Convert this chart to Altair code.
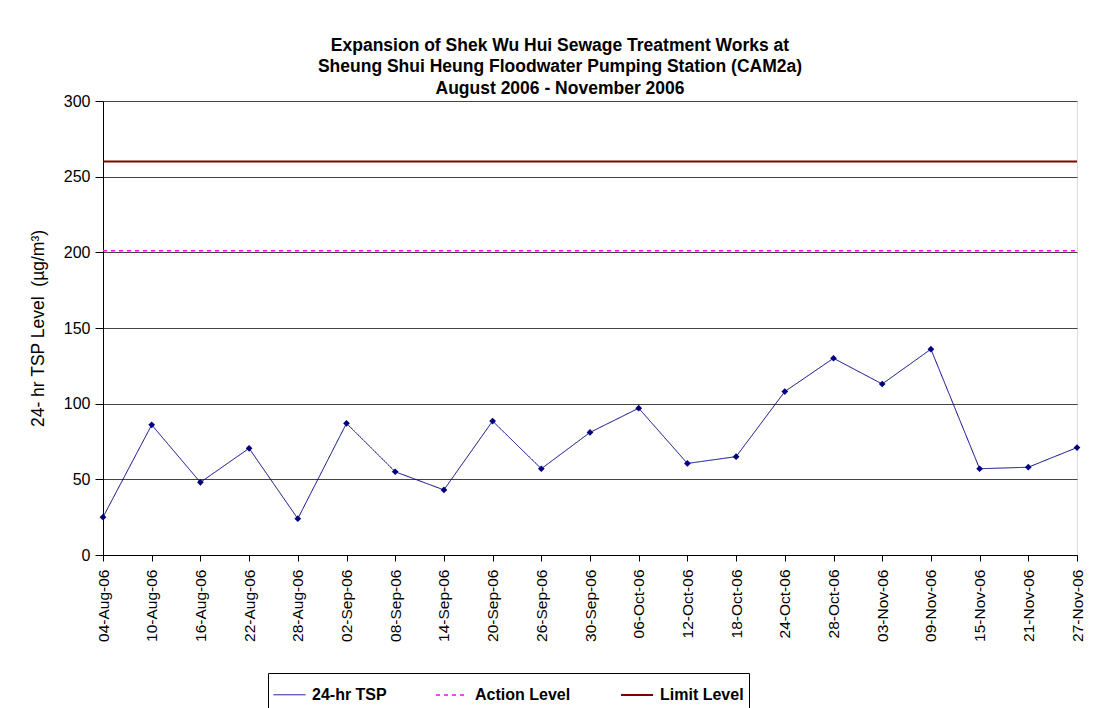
import altair as alt
import pandas as pd

dates = ["04-Aug-06", "10-Aug-06", "16-Aug-06", "22-Aug-06", "28-Aug-06", "02-Sep-06",
         "08-Sep-06", "14-Sep-06", "20-Sep-06", "26-Sep-06", "30-Sep-06", "06-Oct-06",
         "12-Oct-06", "18-Oct-06", "24-Oct-06", "28-Oct-06", "03-Nov-06", "09-Nov-06",
         "15-Nov-06", "21-Nov-06", "27-Nov-06"]
tsp = [25, 86, 48, 70.5, 24, 87, 55, 43, 88.5, 57, 81, 97, 60.5, 65, 108, 130, 113, 136, 57, 58, 71]
action_level = 201
limit_level = 260
series_names = ["24-hr TSP", "Action Level", "Limit Level"]
series_colors = ["#000080", "#FF00FF", "#800000"]

rows = []
for d, v in zip(dates, tsp):
    rows.append({"date": d, "series": "24-hr TSP", "value": v})
for d in dates:
    rows.append({"date": d, "series": "Action Level", "value": action_level})
for d in dates:
    rows.append({"date": d, "series": "Limit Level", "value": limit_level})
df = pd.DataFrame(rows)

FONT = "Liberation Sans"

x_enc = alt.X("date:N", sort=dates, title=None,
              scale=alt.Scale(type="point", padding=0),
              axis=alt.Axis(labelAngle=-90, labelFontSize=15.5, labelColor="black",
                            labelFont=FONT, tickSize=6, tickColor="black",
                            domainColor="black", grid=False, labelPadding=8))
y_enc = alt.Y("value:Q", title="24- hr TSP Level \u00a0(\u00b5g/m\u00b3)",
              scale=alt.Scale(domain=[0, 300], nice=False, zero=True),
              axis=alt.Axis(values=[0, 50, 100, 150, 200, 250, 300], labelFontSize=16,
                            labelColor="black", labelFont=FONT, tickSize=8,
                            tickColor="black", domainColor="black", grid=True,
                            gridColor="#444444", gridWidth=1, titleFontSize=17.5,
                            titleFont=FONT, titleFontWeight="normal", titleColor="black",
                            titlePadding=16, labelPadding=5))

legend_opts = dict(title=None, orient="none", legendX=165, legendY=572,
                   direction="horizontal", strokeColor="black", padding=5,
                   labelFontSize=16, labelFontWeight="bold", labelFont=FONT,
                   labelColor="black", symbolType="stroke", symbolSize=1024,
                   symbolStrokeWidth=2, columnPadding=46, labelOffset=6,
                   fillColor="white")

lines = alt.Chart(df).mark_line(clip=False).encode(
    x=x_enc,
    y=y_enc,
    color=alt.Color("series:N", scale=alt.Scale(domain=series_names, range=series_colors),
                    legend=alt.Legend(**legend_opts)),
    strokeDash=alt.StrokeDash("series:N",
                              scale=alt.Scale(domain=series_names, range=[[1, 0], [4, 4], [1, 0]]),
                              legend=alt.Legend(**legend_opts)),
    strokeWidth=alt.StrokeWidth("series:N",
                                scale=alt.Scale(domain=series_names, range=[1, 2, 2]),
                                legend=None),
)

points = alt.Chart(df[df["series"] == "24-hr TSP"]).mark_point(
    shape="diamond", filled=True, color="#000080", size=45, opacity=1
).encode(x=x_enc, y=y_enc)

chart = alt.layer(lines, points).properties(
    width=974, height=454,
    title=alt.Title(["Expansion of Shek Wu Hui Sewage Treatment Works at",
                     "Sheung Shui Heung Floodwater Pumping Station (CAM2a)",
                     "August 2006 - November 2006"],
                    fontSize=17.5, font=FONT, fontWeight="bold", color="black",
                    anchor="middle", lineHeight=21.5, offset=8, dx=-30, dy=12),
    autosize=alt.AutoSizeParams(type="none"),
    padding={"left": 95, "top": 93, "right": 23, "bottom": 160},
).configure_view(stroke="#888888", strokeWidth=1).configure(background="white")

chart.save("out.html", embed_options={"renderer": "svg", "actions": False})
